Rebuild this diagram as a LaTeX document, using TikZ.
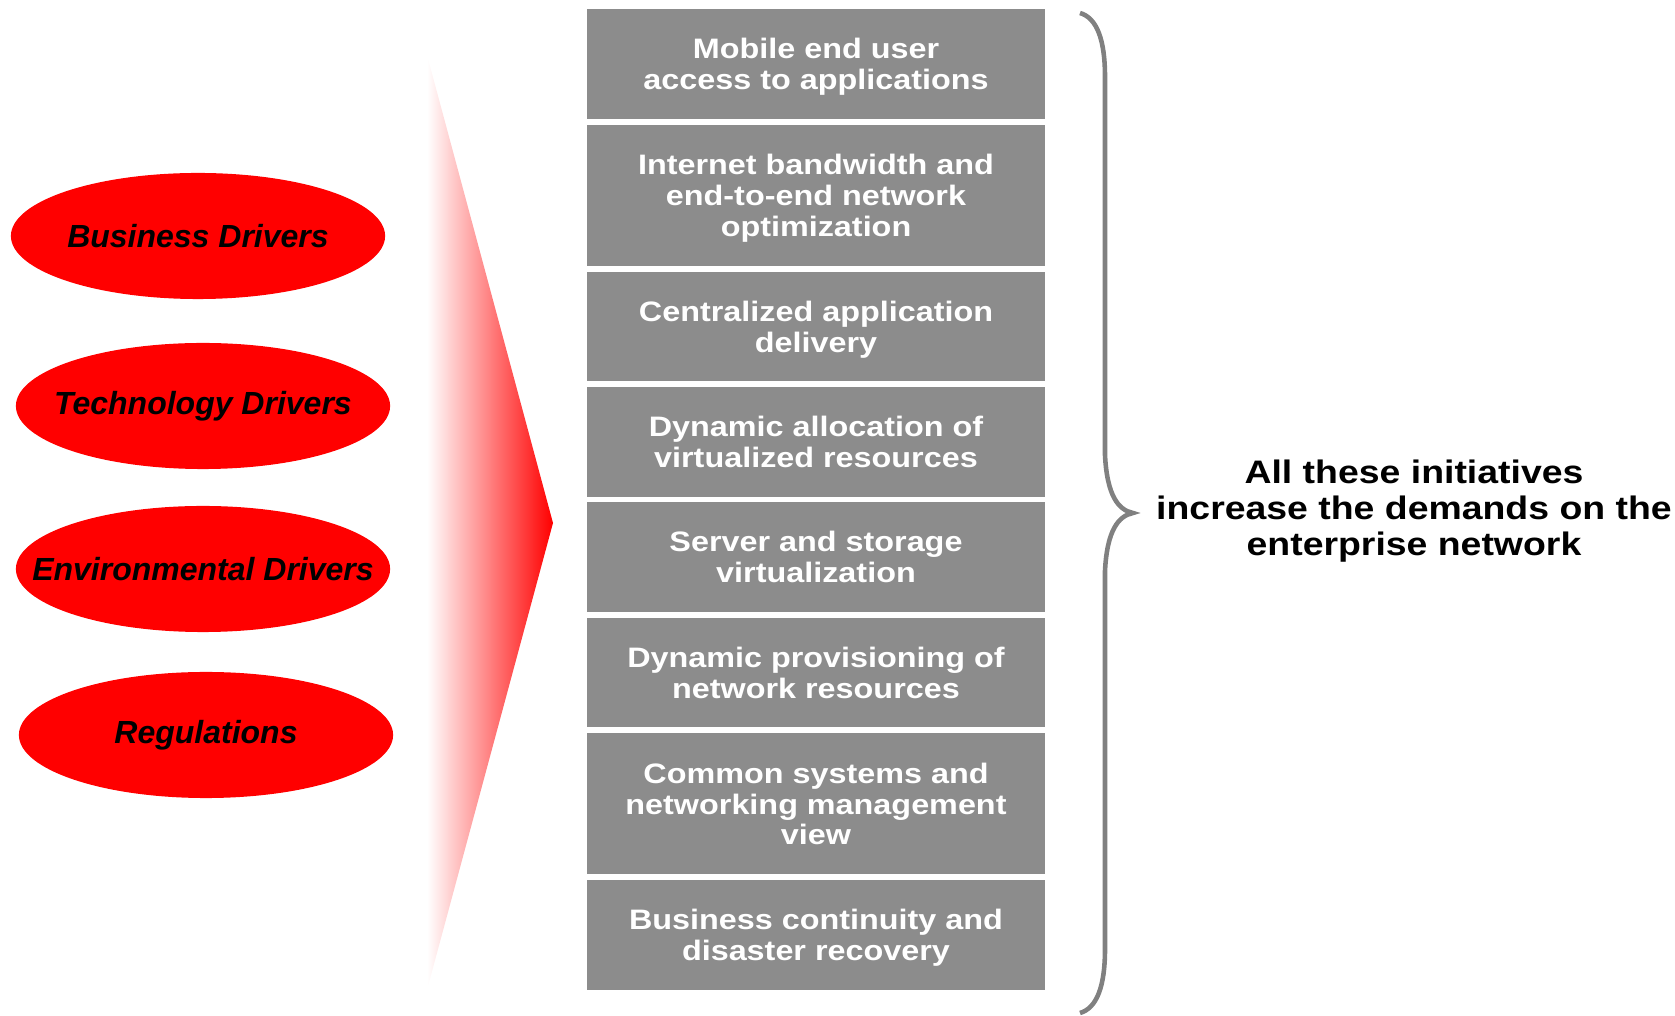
\documentclass[tikz,border=0pt]{standalone}
\usepackage{fontspec}
\setmainfont{Liberation Sans}
\newfontfamily\widefont{Liberation Sans}[FakeStretch=1.15]
\usetikzlibrary{positioning,shapes.geometric}
\definecolor{tilegray}{RGB}{140,140,140}
\definecolor{bracegray}{RGB}{128,128,128}

\begin{document}
\begin{tikzpicture}[x=0.01cm, y=-0.01cm, node distance=0.0586cm,
    driver/.style={ellipse, fill=red, inner xsep=-2cm, inner ysep=0pt,
    minimum width=3.74cm, minimum height=1.26cm,
    font=\fontsize{9.1}{10}\selectfont\bfseries\itshape},
    initiative/.style={rectangle, fill=tilegray, text=white, align=center,
    inner sep=0pt, outer sep=0pt, minimum width=4.58cm, minimum height=1.095cm,
    text depth=-2.2pt, font=\widefont\fontsize{8}{8.8}\selectfont\bfseries},
    tall/.style={minimum height=1.41cm},
    summary/.style={align=center, inner sep=0pt,
    font=\widefont\fontsize{9.25}{10.2}\selectfont\bfseries}
    ]
    \useasboundingbox (0,0) rectangle (1675,1016);
    % funnel
    \shade[left color=white, right color=red] (427,55) -- (553,523) -- (427,990) -- cycle;
    % drivers
    \node[driver] (bus) at (198,236) {Business Drivers};
    \node[driver] (tech) at (203,406) {Technology Drivers};
    \node[driver] (env) at (203,569) {Environmental Drivers};
    \node[driver] (reg) at (206,735) {Regulations};
    % initiatives
    \node[initiative] (mob) at (816,64) {Mobile end user\\access to applications};
    \node[initiative, tall, below=of mob] (band) {Internet bandwidth and\\end-to-end network\\optimization};
    \node[initiative, below=of band] (cent) {Centralized application\\delivery};
    \node[initiative, below=of cent] (alloc) {Dynamic allocation of\\virtualized resources};
    \node[initiative, below=of alloc] (virt) {Server and storage\\virtualization};
    \node[initiative, below=of virt] (prov) {Dynamic provisioning of\\network resources};
    \node[initiative, tall, below=of prov] (mgmt) {Common systems and\\networking management\\view};
    \node[initiative, below=of mgmt] (cont) {Business continuity and\\disaster recovery};
    % brace
    \draw[bracegray, line width=1.3pt] (1080,13) .. controls (1097,18) and (1105,40) .. (1105,77)
      -- (1105,455) .. controls (1107,495) and (1118,510) .. (1133,513)
      .. controls (1118,516) and (1107,531) .. (1105,571)
      -- (1105,949) .. controls (1105,986) and (1097,1008) .. (1080,1013);
    \node[summary] (note) at (1414,511) {All these initiatives\\increase the demands on the\\enterprise network};
\end{tikzpicture}
\end{document}
